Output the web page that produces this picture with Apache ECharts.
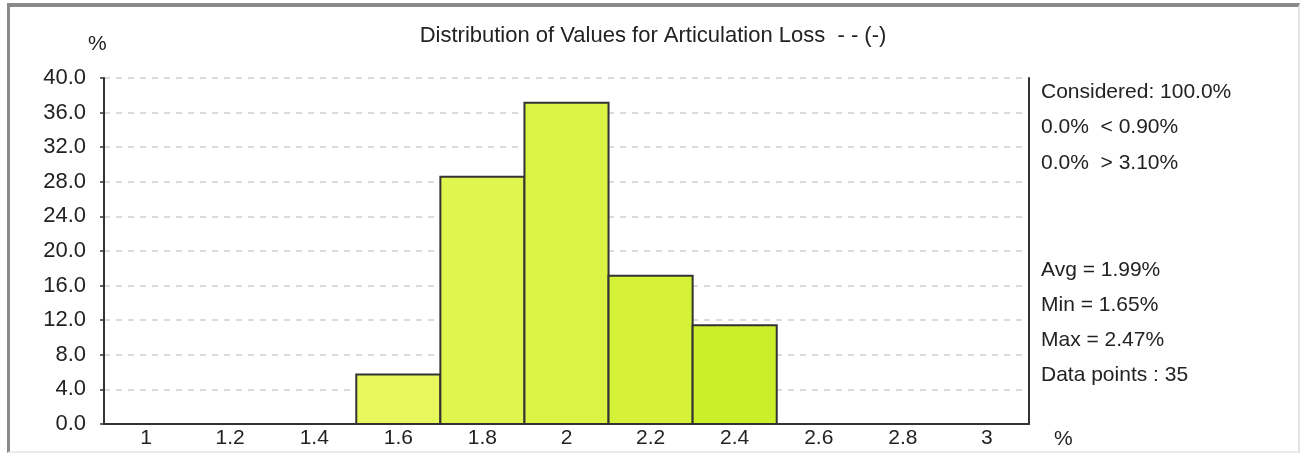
<!DOCTYPE html>
<html>
<head>
<meta charset="utf-8">
<script src="https://cdn.jsdelivr.net/npm/echarts@6/dist/echarts.min.js"></script>
<style>
html,body{margin:0;padding:0;background:#fff;}
#frame{position:absolute;left:7px;top:3px;width:1293px;height:450px;border-left:3px solid #8a8a8a;border-top:4px solid #8a8a8a;border-right:2px solid #e4e4e4;border-bottom:2px solid #ececec;box-sizing:border-box;}
#chart{position:absolute;left:0;top:0;width:1306px;height:457px;}
</style>
</head>
<body>
<div id="frame"></div>
<div id="chart"></div>
<script>
// ---- data ----
const binStarts = [1.5, 1.7, 1.9, 2.1, 2.3];
const binEnds   = [1.7, 1.9, 2.1, 2.3, 2.5];
const binPercent = [5.71, 28.57, 37.14, 17.14, 11.43];
const xTicks = [1, 1.2, 1.4, 1.6, 1.8, 2, 2.2, 2.4, 2.6, 2.8, 3];
const yTicks = [0, 4, 8, 12, 16, 20, 24, 28, 32, 36, 40];
const titleText = 'Distribution of Values for Articulation Loss  - - (-)';
const statsTop = ['Considered: 100.0%', '0.0%  < 0.90%', '0.0%  > 3.10%'];
const statsBottom = ['Avg = 1.99%', 'Min = 1.65%', 'Max = 2.47%', 'Data points : 35'];

// ---- style ----
const barColors = ['#e8f85c', '#e1f54f', '#dbf344', '#d5f239', '#cdef2b'];
const FONT = '"Liberation Sans", Arial, sans-serif';
const TXT = '#222';
const FS = 21;

const chart = echarts.init(document.getElementById('chart'), null, {renderer: 'canvas'});

const barData = binStarts.map((s, i) => [s, binEnds[i], binPercent[i]]);

function label(x, y, t) {
  return {type: 'text', x: x, y: y,
    style: {text: t, font: FS + 'px ' + FONT, fill: TXT, verticalAlign: 'middle'}};
}
const graphics = [];
statsTop.forEach((t, i) => graphics.push(label(1041, 92 + i * 35.5, t)));
statsBottom.forEach((t, i) => graphics.push(label(1041, 270 + i * 35, t)));
graphics.push(label(88, 44, '%'));
graphics.push(label(1054, 439, '%'));

chart.setOption({
  animation: false,
  title: {
    text: titleText, left: 'center', top: 20,
    textStyle: {fontFamily: FONT, fontSize: 22, fontWeight: 'normal', color: TXT}
  },
  grid: {left: 104, right: 277, top: 78, bottom: 33},
  xAxis: {
    type: 'value', min: 0.9, max: 3.1, interval: 0.1,
    axisLine: {show: true, onZero: false, lineStyle: {color: '#333', width: 2}},
    axisTick: {show: false},
    splitLine: {show: false},
    axisLabel: {
      customValues: xTicks,
      fontFamily: FONT, fontSize: FS, color: TXT, margin: 4,
      formatter: v => String(Math.round(v * 10) / 10)
    }
  },
  yAxis: [{
    type: 'value', min: 0, max: 40, interval: 4,
    axisLine: {show: true, lineStyle: {color: '#333', width: 2}},
    axisTick: {show: true, length: 4, lineStyle: {color: '#333', width: 1.5}},
    splitLine: {show: true, lineStyle: {color: '#cfcfcf', type: [6, 6], width: 1.5}},
    axisLabel: {fontFamily: FONT, fontSize: 22, color: TXT, margin: 18,
      formatter: v => v.toFixed(1)}
  }, {
    type: 'value', min: 0, max: 40, interval: 4, position: 'right',
    axisLine: {show: true, lineStyle: {color: '#333', width: 2}},
    axisTick: {show: false}, axisLabel: {show: false}, splitLine: {show: false}
  }],
  graphic: graphics,
  series: [{
    type: 'custom',
    data: barData,
    encode: {x: [0, 1], y: 2},
    renderItem: function (params, api) {
      const p0 = api.coord([api.value(0), 0]);
      const p1 = api.coord([api.value(1), api.value(2)]);
      return {
        type: 'rect',
        shape: {x: p0[0], y: p1[1], width: p1[0] - p0[0], height: p0[1] - p1[1]},
        style: {fill: barColors[params.dataIndex], stroke: '#333', lineWidth: 2}
      };
    }
  }]
});
</script>
</body>
</html>
